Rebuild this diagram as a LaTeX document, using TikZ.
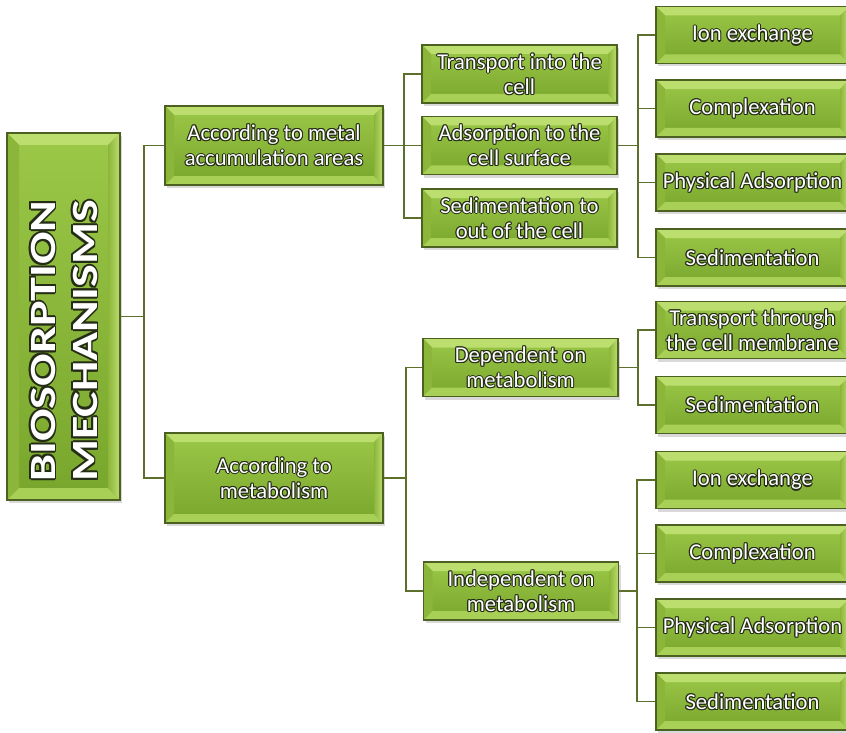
\documentclass[tikz,border=0pt]{standalone}
\usepackage{graphicx}
\usepackage{fontspec}
\setmainfont{Carlito}
\usetikzlibrary{calc,shadows,backgrounds}

% palette
\definecolor{boxedge}{RGB}{76,96,34}
\definecolor{facetop}{RGB}{156,200,72}
\definecolor{facebot}{RGB}{120,166,44}
\definecolor{bevlight}{RGB}{188,222,110}
\definecolor{bevmid}{RGB}{140,182,58}
\definecolor{bevlow}{RGB}{168,208,86}
\definecolor{linkcol}{RGB}{92,112,44}
\definecolor{txtedge}{RGB}{36,44,22}

% bevel width of the boxes
\newlength\bev
\setlength\bev{9pt}

% white lettering with a dark rim made of shifted dark copies
\newcommand\rimcopy[3]{\rlap{\hspace*{#1}\raisebox{#2}{\color{txtedge}#3}}}
\newcommand\rimtext[3]{\leavevmode
  \rimcopy{-#1}{0pt}{#3}\rimcopy{#1}{0pt}{#3}%
  \rimcopy{0pt}{#1}{#3}\rimcopy{0pt}{-#1}{#3}%
  \rimcopy{-#2}{-#2}{#3}\rimcopy{#2}{#2}{#3}%
  \rimcopy{-#2}{#2}{#3}\rimcopy{#2}{-#2}{#3}%
  {\color{white}#3}}
\newcommand\otx[1]{\rimtext{1.1pt}{0.8pt}{#1}}
\newcommand\otxb[1]{\rimtext{1.6pt}{1.15pt}{#1}}
\newcommand\rootline[1]{\scalebox{1.3}[1]{\otxb{#1}}}

\tikzset{
  bevelbox/.style={
    rectangle, inner sep=0pt, draw=boxedge, line width=1.2pt,
    top color=facetop, bottom color=facebot,
    drop shadow={opacity=0.3, shadow xshift=2pt, shadow yshift=-3pt},
    align=center, text=white,
    font=\fontsize{22.6}{25.2}\selectfont,
    path picture={
      \coordinate (pnw) at (path picture bounding box.north west);
      \coordinate (pne) at (path picture bounding box.north east);
      \coordinate (psw) at (path picture bounding box.south west);
      \coordinate (pse) at (path picture bounding box.south east);
      \fill[bevlight] (pnw) -- (pne) -- ($(pne)+(-\bev,-\bev)$) -- ($(pnw)+(\bev,-\bev)$) -- cycle;
      \fill[bevmid] (pnw) -- ($(pnw)+(\bev,-\bev)$) -- ($(psw)+(\bev,\bev)$) -- (psw) -- cycle;
      \fill[bevlow] (psw) -- ($(psw)+(\bev,\bev)$) -- ($(pse)+(-\bev,\bev)$) -- (pse) -- cycle;
      \shade[left color=bevmid, right color=bevlight] (pne) -- (pse) -- ($(pse)+(-\bev,\bev)$) -- ($(pne)+(-\bev,-\bev)$) -- cycle;
    }
  },
  lvlone/.style={bevelbox, minimum width=218pt},
  lvltwo/.style={bevelbox, minimum width=195pt, minimum height=58pt},
  leafbox/.style={bevelbox, minimum width=193pt, minimum height=57pt},
  roottext/.style={rotate=90, align=center, inner sep=0pt,
    font=\bfseries\fontsize{37}{42}\selectfont},
  link/.style={draw=linkcol, line width=1.8pt},
}

\begin{document}
\begin{tikzpicture}[x=1pt, y=-1pt]
\useasboundingbox (0,0) rectangle (846,733);

% root
\node[bevelbox, minimum width=113pt, minimum height=367pt, /utils/exec={\setlength\bev{12pt}}] (root) at (63.5,316.5) {};
\node[roottext] (rootlabel) at (64,341) {\rootline{BIOSORPTION}\\\rootline{MECHANISMS}};

% first level
\node[lvlone, minimum height=79pt] (area) at (274,145.5) {\otx{According to metal}\\\otx{accumulation areas}};
\node[lvlone, minimum height=90pt] (meta) at (274,478) {\otx{According to}\\\otx{metabolism}};

% second level
\node[lvltwo] (tin)   at (519.5,74)    {\otx{Transport into the}\\\otx{cell}};
\node[lvltwo] (adsc)  at (519.5,145.5) {\otx{Adsorption to the}\\\otx{cell surface}};
\node[lvltwo] (sedo)  at (519.5,218)   {\otx{Sedimentation to}\\\otx{out of the cell}};
\node[lvltwo] (dep)   at (520.5,367.5) {\otx{Dependent on}\\\otx{metabolism}};
\node[lvltwo] (indep) at (521,591)     {\otx{Independent on}\\\otx{metabolism}};

% leaves
\node[leafbox] (ionA)  at (752.5,35)    {\otx{Ion exchange}};
\node[leafbox] (cplA)  at (752.5,108.5) {\otx{Complexation}};
\node[leafbox] (physA) at (752.5,182.5) {\otx{Physical Adsorption}};
\node[leafbox] (sedA)  at (752.5,257.5) {\otx{Sedimentation}};
\node[leafbox] (trB)   at (752.5,330)   {\otx{Transport through}\\\otx{the cell membrane}};
\node[leafbox] (sedB)  at (752.5,405)   {\otx{Sedimentation}};
\node[leafbox] (ionC)  at (752.5,480)   {\otx{Ion exchange}};
\node[leafbox] (cplC)  at (752.5,553.5) {\otx{Complexation}};
\node[leafbox] (physC) at (752.5,627.5) {\otx{Physical Adsorption}};
\node[leafbox] (sedC)  at (752.5,701.5) {\otx{Sedimentation}};

% elbow connectors
\begin{scope}[on background layer]
  \foreach \t in {area, meta}
    \draw[link] (root.east) -- ++(23pt,0) |- (\t.west);
  \foreach \t in {tin, adsc, sedo}
    \draw[link] (area.east) -- ++(20pt,0) |- (\t.west);
  \foreach \t in {dep, indep}
    \draw[link] (meta.east) -- ++(22pt,0) |- (\t.west);
  \foreach \t in {ionA, cplA, physA, sedA}
    \draw[link] (adsc.east) -- ++(20pt,0) |- (\t.west);
  \foreach \t in {trB, sedB}
    \draw[link] (dep.east) -- ++(19pt,0) |- (\t.west);
  \foreach \t in {ionC, cplC, physC, sedC}
    \draw[link] (indep.east) -- ++(18pt,0) |- (\t.west);
\end{scope}
\end{tikzpicture}
\end{document}
